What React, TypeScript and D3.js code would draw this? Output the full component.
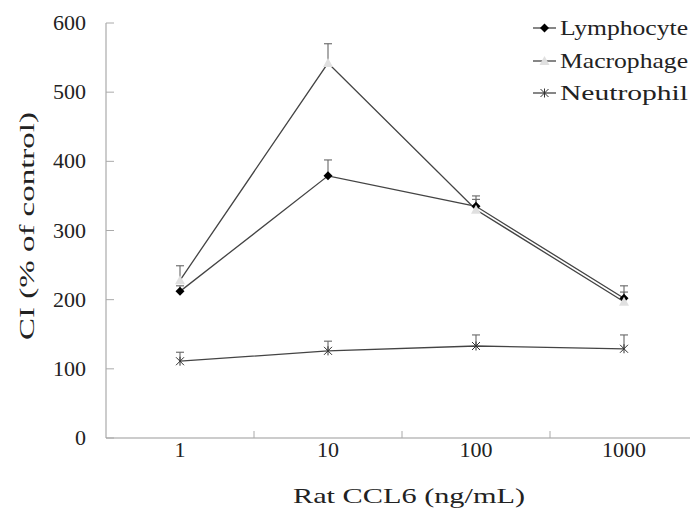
import React from "react";
import * as d3 from "d3";

const categories = ["1", "10", "100", "1000"];
const lymphocyte = [212, 379, 335, 202];
const lymphocyteErr = [8, 23, 15, 18];
const macrophage = [228, 542, 330, 197];
const macrophageErr = [21, 28, 15, 14];
const neutrophil = [111, 126, 133, 129];
const neutrophilErr = [13, 14, 16, 20];
const yTicks = [0, 100, 200, 300, 400, 500, 600];

const W = 691, H = 512;
const left = 106, right = 698, top = 23, bottom = 438;
const FONT = "Liberation Serif, serif";

export default function App() {
  const x = d3.scaleBand<string>().domain(categories).range([left, right]);
  const y = d3.scaleLinear().domain([0, 600]).range([bottom, top]);
  const cx = (c: string) => (x(c) as number) + x.bandwidth() / 2;
  const line = d3.line<[number, number]>().x(d => d[0]).y(d => d[1]);

  const series = [
    { name: "Lymphocyte", vals: lymphocyte, err: lymphocyteErr, marker: "diamond" },
    { name: "Macrophage", vals: macrophage, err: macrophageErr, marker: "triangle" },
    { name: "Neutrophil", vals: neutrophil, err: neutrophilErr, marker: "star" },
  ];

  const marker = (type: string, px: number, py: number, k: string) => {
    if (type === "diamond") {
      return <path key={k} d={`M${px},${py - 4.5}L${px + 4.5},${py}L${px},${py + 4.5}L${px - 4.5},${py}Z`} fill="#000" />;
    }
    if (type === "triangle") {
      return <path key={k} d={`M${px},${py - 5}L${px + 5},${py + 4}L${px - 5},${py + 4}Z`} fill="#e0e0e0" />;
    }
    return (
      <g key={k} stroke="#333" strokeWidth={1}>
        <line x1={px - 4} y1={py - 4} x2={px + 4} y2={py + 4} />
        <line x1={px - 4} y1={py + 4} x2={px + 4} y2={py - 4} />
        <line x1={px} y1={py - 4.5} x2={px} y2={py + 4.5} />
      </g>
    );
  };

  const legendRows = [28, 61, 93];

  return (
    <svg width={W} height={H} style={{ position: "absolute", left: 0, top: 0, background: "#fff" }}>
      <rect width={W} height={H} fill="#fff" />
      <line x1={left} y1={top} x2={left} y2={bottom} stroke="#999" strokeWidth={1} />
      <line x1={left} y1={bottom} x2={W - 1} y2={bottom} stroke="#999" strokeWidth={1} />
      {yTicks.map(t => (
        <g key={t}>
          <line x1={left} x2={left + 8} y1={y(t)} y2={y(t)} stroke="#aaa" />
          <text x={86} y={y(t) + 7} textAnchor="end" fontFamily={FONT} fontSize={22} fill="#222">{t}</text>
        </g>
      ))}
      {categories.slice(1).map(c => (
        <line key={c} x1={x(c) as number} x2={x(c) as number} y1={bottom} y2={bottom - 7} stroke="#aaa" />
      ))}
      {categories.map(c => (
        <text key={c} x={cx(c)} y={457} textAnchor="middle" fontFamily={FONT} fontSize={22} fill="#222">{c}</text>
      ))}
      <text x={409} y={503} textAnchor="middle" fontFamily={FONT} fontSize={21} textLength={232} lengthAdjust="spacingAndGlyphs" fill="#222">Rat CCL6 (ng/mL)</text>
      <text transform={`translate(34,226) rotate(-90)`} textAnchor="middle" fontFamily={FONT} fontSize={21} textLength={228} lengthAdjust="spacingAndGlyphs" fill="#222">CI (% of control)</text>

      {series.map(s => s.vals.map((v, i) => {
        const px = cx(categories[i]);
        return (
          <g key={s.name + i} stroke="#666" strokeWidth={1.1}>
            <line x1={px} x2={px} y1={y(v)} y2={y(v + s.err[i])} />
            <line x1={px - 4} x2={px + 4} y1={y(v + s.err[i])} y2={y(v + s.err[i])} />
          </g>
        );
      }))}
      {series.map(s => (
        <path key={s.name} d={line(s.vals.map((v, i) => [cx(categories[i]), y(v)] as [number, number])) || ""} fill="none" stroke="#444" strokeWidth={1.3} />
      ))}
      {series.map(s => s.vals.map((v, i) => marker(s.marker, cx(categories[i]), y(v), s.name + "m" + i)))}

      {series.map((s, i) => (
        <g key={s.name}>
          <line x1={533} x2={556} y1={legendRows[i]} y2={legendRows[i]} stroke="#444" strokeWidth={1.3} />
          {marker(s.marker, 544.5, legendRows[i], "lg" + i)}
          <text x={560} y={legendRows[i] + 7} fontFamily={FONT} fontSize={21} textLength={128} lengthAdjust="spacingAndGlyphs" fill="#222">{s.name}</text>
        </g>
      ))}
    </svg>
  );
}
